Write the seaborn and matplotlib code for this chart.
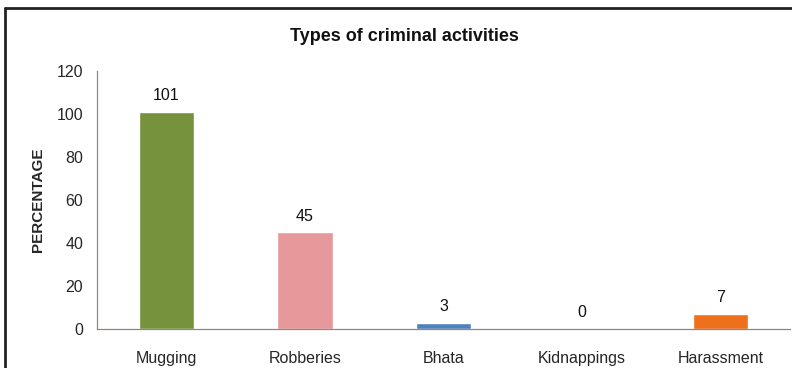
import matplotlib
matplotlib.use("Agg")
import matplotlib.pyplot as plt
import seaborn as sns
import pandas as pd
from matplotlib.lines import Line2D

categories = ["Mugging", "Robberies", "Bhata", "Kidnappings", "Harassment"]
values = [101, 45, 3, 0, 7]
colors = ["#76923C", "#E6989A", "#4F81BD", "#4F81BD", "#EE6F1C"]
yticks = [0, 20, 40, 60, 80, 100, 120]

df = pd.DataFrame({"activity": categories, "value": values})

sns.set_style("white")
plt.rcParams["font.family"] = ["Liberation Sans", "DejaVu Sans"]

fig = plt.figure(figsize=(7.92, 3.68), dpi=100)
ax = fig.add_axes([0.1225, 0.106, 0.875, 0.701])

sns.barplot(data=df, x="activity", y="value", hue="activity", palette=colors,
            width=0.4, legend=False, ax=ax, saturation=1)

for i, v in enumerate(values):
    ax.text(i, v + 4, str(v), ha="center", va="bottom", fontsize=11.5, color="#111111")

ax.set_ylim(0, 120)
ax.set_xlim(-0.5, len(categories) - 0.5)
ax.set_yticks(yticks)
ax.set_yticklabels([str(t) for t in yticks], fontsize=11.5)
ax.tick_params(axis="y", length=4, width=0.8, color="#9a8a8a", pad=6)
ax.set_xticks(range(len(categories)))
ax.set_xticklabels(categories, fontsize=11.5)
ax.tick_params(axis="x", which="major", length=0, pad=16)
ax.set_xticks([i + 0.5 for i in range(len(categories) - 1)], minor=True)
ax.tick_params(axis="x", which="minor", length=4, width=0.8, color="#9a8a8a")

for side in ["top", "right"]:
    ax.spines[side].set_visible(False)
for side in ["left", "bottom"]:
    ax.spines[side].set_color("#9a8080")
    ax.spines[side].set_linewidth(0.9)

ax.set_xlabel("")
ax.set_ylabel("PERCENTAGE", fontsize=11, fontweight="bold", labelpad=8)
fig.text(0.511, 0.9, "Types of criminal activities", ha="center", va="center",
         fontsize=13, fontweight="bold", color="#111111")

# outer frame (top and left edges)
fig.add_artist(Line2D([0.006, 1.0], [0.978, 0.978], transform=fig.transFigure,
                      color="#222222", linewidth=2))
fig.add_artist(Line2D([0.006, 0.006], [0.0, 0.978], transform=fig.transFigure,
                      color="#222222", linewidth=2))

fig.savefig("out.png", dpi=100)
